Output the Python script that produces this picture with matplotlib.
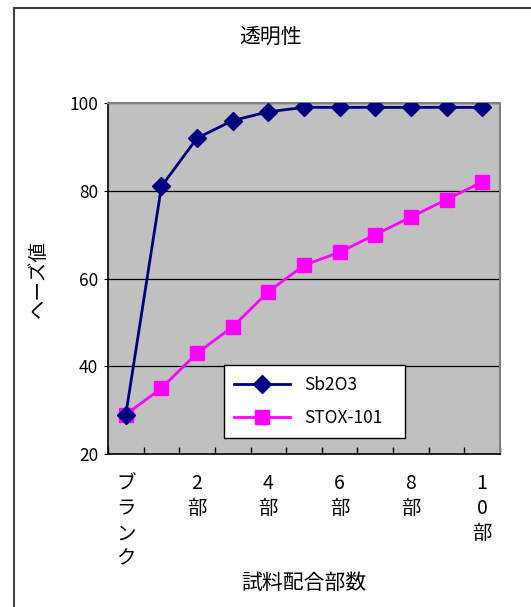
import numpy as np
import matplotlib
matplotlib.use('Agg')
from matplotlib import pyplot as plt
from matplotlib.patches import Rectangle

plt.rcParams['font.family'] = ['Noto Sans CJK JP', 'DejaVu Sans']

# data
categories = ['ブランク', '1部', '2部', '3部', '4部', '5部', '6部', '7部', '8部', '9部', '10部']
sb2o3 = [29, 81, 92, 96, 98, 99, 99, 99, 99, 99, 99]
stox = [29, 35, 43, 49, 57, 63, 66, 70, 74, 78, 82]
y_ticks = [20, 40, 60, 80, 100]

fig = plt.figure(figsize=(5.31, 6.07), dpi=100)
ax = fig.add_axes([108 / 531, 1 - 454 / 607, 392 / 531, 351 / 607])
ax.set_facecolor('#C0C0C0')

# outer chart border (left and top edges visible)
fig.patches.append(Rectangle((14 / 531, -0.1), 1.2, 1.1 - 8 / 607,
                             transform=fig.transFigure, fill=False,
                             edgecolor='#404040', linewidth=1.5))

x = np.arange(len(categories))
ax.plot(x, sb2o3, '-D', color='#000080', linewidth=2, markersize=9,
        label='Sb2O3', zorder=4)
ax.plot(x, stox, '-s', color='#FF00FF', linewidth=2, markersize=10,
        label='STOX-101', zorder=3)

ax.set_xlim(-0.5, len(categories) - 0.5)
ax.set_ylim(20, 100)
ax.set_yticks(y_ticks)
ax.yaxis.grid(True, color='black', linewidth=0.9)
ax.set_axisbelow(True)
ax.tick_params(axis='y', direction='out', length=3, labelsize=12.5, pad=4)

# ticks between categories, labels on every other category (stacked text)
ax.set_xticks(np.arange(-0.5, len(categories), 1.0))
ax.set_xticklabels([])
ax.tick_params(axis='x', which='major', direction='in', length=5, width=1)
ax.set_xticks(x[::2], minor=True)
ax.set_xticklabels(['\n'.join(c) for c in categories[::2]], minor=True,
                   va='top', fontsize=14, linespacing=1.25)
ax.tick_params(axis='x', which='minor', length=0, pad=14)

for side in ['top', 'right']:
    ax.spines[side].set_color('#808080')
    ax.spines[side].set_linewidth(1.5)
for side in ['left', 'bottom']:
    ax.spines[side].set_color('black')
    ax.spines[side].set_linewidth(1.2)

fig.text(271 / 531, 1 - 37 / 607, '透明性', fontsize=15,
         ha='center', va='center')
ax.set_ylabel('ヘーズ値', fontsize=14, labelpad=15)
fig.text(304 / 531, 1 - 583 / 607, '試料配合部数', fontsize=15,
         ha='center', va='center')

leg = ax.legend(loc='lower left', bbox_to_anchor=(0.296, 0.046, 0.462, 0.205),
                mode='expand', borderaxespad=0, fontsize=12.5, frameon=True,
                fancybox=False, framealpha=1, borderpad=0.6, handlelength=3.2,
                labelspacing=0.9)
leg.get_frame().set_edgecolor('black')
leg.get_frame().set_facecolor('white')
leg.get_frame().set_linewidth(1)

fig.savefig('out.png', dpi=100)
